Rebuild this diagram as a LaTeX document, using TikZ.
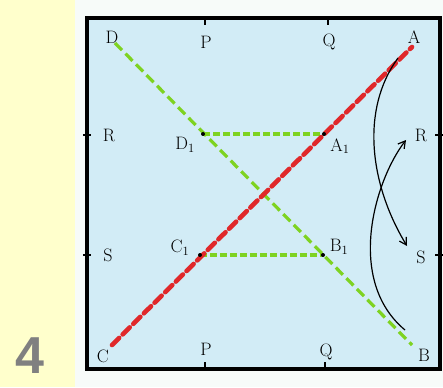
\documentclass[tikz,border=0pt]{standalone}
\usepackage{fontspec}
\newfontfamily\numfont{Liberation Sans}
\usetikzlibrary{arrows.meta}
\definecolor{bgyellow}{HTML}{FFFFCC}
\definecolor{paper}{HTML}{F7FBF9}
\definecolor{sheet}{HTML}{D2ECF6}
\definecolor{numgray}{HTML}{808080}
\definecolor{redline}{HTML}{E0282A}
\definecolor{greenline}{HTML}{7ED321}
\tikzset{
  lbl/.style={font=\fontsize{18}{18}\selectfont, inner sep=0pt},
  reddash/.style={redline, line width=4.6pt, dash pattern=on 10pt off 5pt},
  greendash/.style={greenline, line width=3.2pt, dash pattern=on 10pt off 5pt},
  greenshort/.style={greenline, line width=3.2pt, dash pattern=on 7pt off 3pt},
  tick/.style={line width=1.4pt},
  curvearrow/.style={line width=1.2pt, -{Straight Barb[length=7pt,width=8pt]}},
  dot/.style={circle, fill=black, inner sep=0pt, minimum size=4pt}
}
\begin{document}
\begin{tikzpicture}[x=1pt,y=-1pt]
\useasboundingbox (0,0) rectangle (443,387);
\fill[bgyellow] (0,0) rectangle (75,387);
\fill[paper] (75,0) rectangle (443,387);
\fill[sheet] (87,18) rectangle (440,369);
\draw[line width=3.2pt] (87,18) -- (440,18) -- (440,369) -- (87,369) -- cycle;
\node[font=\numfont\bfseries\fontsize{52}{52}\selectfont, text=numgray, inner sep=0pt] (num) at (30,356) {4};
% ticks
\draw[tick] (205,18) -- (205,25);
\draw[tick] (328,18) -- (328,25);
\draw[tick] (205,369) -- (205,362);
\draw[tick] (325,369) -- (325,362);
\draw[tick] (83,135) -- (91,135);
\draw[tick] (83,255) -- (91,255);
\draw[tick] (435,135) -- (443,135);
\draw[tick] (435,255) -- (443,255);
% points
\coordinate (A) at (412,47);
\coordinate (B) at (412,345);
\coordinate (C) at (112,345);
\coordinate (D) at (115,43);
\coordinate (D1) at (203,134);
\coordinate (A1) at (324,134);
\coordinate (C1) at (200,255);
\coordinate (B1) at (323,255);
% lines
\draw[greendash] (D) -- (B);
\draw[greenshort] (D1) -- (A1);
\draw[greenshort] (C1) -- (B1);
\draw[reddash, line cap=round] (C) -- (A);
\node[dot] (dD1) at (D1) {};
\node[dot] (dA1) at (A1) {};
\node[dot] (dC1) at (C1) {};
\node[dot] (dB1) at (B1) {};
% arrows
\coordinate (aS) at (398,58);
\coordinate (eS) at (407,246);
\coordinate (aR) at (405,330);
\coordinate (eR) at (406,140);
\draw[curvearrow] (aS) .. controls (360,110) and (370,185) .. (eS);
\draw[curvearrow] (aR) .. controls (345,280) and (375,180) .. (eR);
% labels
\node[lbl] (lD) at (112,37) {D};
\node[lbl] (lP1) at (206,42) {P};
\node[lbl] (lQ1) at (329,42) {Q};
\node[lbl] (lA) at (414,37) {A};
\node[lbl] (lR1) at (109,135) {R};
\node[lbl] (lS1) at (108,255) {S};
\node[lbl] (lR2) at (421,135) {R};
\node[lbl] (lS2) at (421,257) {S};
\node[lbl] (lC) at (103,356) {C};
\node[lbl] (lP2) at (206,349) {P};
\node[lbl] (lQ2) at (326,352) {Q};
\node[lbl] (lB) at (424,355) {B};
\node[lbl] (lD1) at (185,145) {D\textsubscript{1}};
\node[lbl] (lA1) at (340,146) {A\textsubscript{1}};
\node[lbl] (lC1) at (180,248) {C\textsubscript{1}};
\node[lbl] (lB1) at (339,247) {B\textsubscript{1}};
\end{tikzpicture}
\end{document}
